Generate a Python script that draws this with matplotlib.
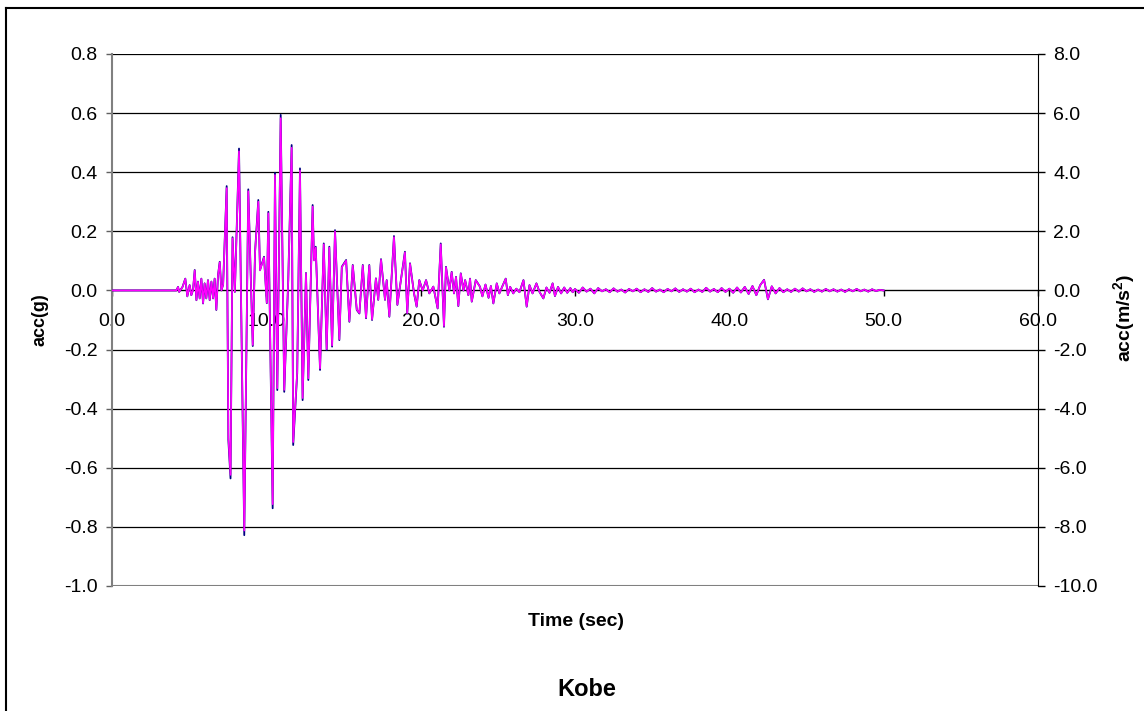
# Kobe 地震加速度时程
import matplotlib
matplotlib.use('Agg')
import matplotlib.pyplot as plt
import numpy as np
from matplotlib.lines import Line2D
from matplotlib.ticker import FormatStrFormatter

plt.rcParams['font.family'] = ['Liberation Sans', 'DejaVu Sans']
plt.rcParams['mathtext.fontset'] = 'custom'
plt.rcParams['mathtext.rm'] = 'Liberation Sans'
plt.rcParams['mathtext.bf'] = 'Liberation Sans:bold'
plt.rcParams['mathtext.default'] = 'bf'

# 主震段 (时间 s, 加速度 g) —— 从图上读取
t_main = [0.0, 3.9, 4.17, 4.28, 4.35, 4.57, 4.75, 4.88, 5.03, 5.14, 5.25, 5.36, 5.47,
          5.57, 5.68, 5.79, 5.90, 6.00, 6.11, 6.22, 6.33, 6.44, 6.55, 6.65, 6.76,
          6.87, 6.98, 7.09, 7.20, 7.43, 7.54, 7.68, 7.81, 7.96, 8.23, 8.57, 8.83,
          9.12, 9.27, 9.48, 9.59, 9.85, 10.03, 10.13, 10.41, 10.56, 10.71, 10.93,
          11.16, 11.42, 11.64, 11.74, 12.00, 12.18, 12.35, 12.57, 12.72, 13.00,
          13.09, 13.20, 13.48, 13.72, 13.91, 14.08, 14.26, 14.45, 14.73, 14.89,
          15.17, 15.38, 15.60, 15.86, 16.03, 16.25, 16.46, 16.67, 16.85, 17.10,
          17.25, 17.43, 17.69, 17.80, 17.97, 18.27, 18.49, 18.66, 18.98, 19.13,
          19.31, 19.57, 19.74, 19.91, 20.13, 20.35, 20.56, 20.82, 21.10, 21.30,
          21.51, 21.64, 21.86, 22.01, 22.16, 22.29, 22.44, 22.60, 22.77, 22.88,
          23.09, 23.20, 23.31, 23.57, 23.84, 24.00, 24.20, 24.40, 24.55, 24.71,
          24.93, 25.10, 25.30, 25.51, 25.65, 25.80, 26.00, 26.20, 26.40, 26.66,
          26.87, 27.05, 27.25, 27.50, 27.70, 27.95, 28.15, 28.35, 28.55, 28.70,
          28.90, 29.10, 29.30, 29.50, 29.70, 29.85]
acc_main = [0.0, 0.0, 0.0, 0.012, -0.005, 0.012, 0.040, -0.020, 0.018, -0.016, 0.002,
            0.069, -0.033, 0.030, -0.027, 0.040, -0.044, 0.024, -0.027, 0.035, -0.033,
            0.030, -0.027, 0.040, -0.066, 0.052, 0.097, 0.000, 0.020, 0.353, -0.506,
            -0.636, 0.180, -0.005, 0.480, -0.828, 0.342, -0.188, 0.131, 0.306, 0.069,
            0.114, -0.043, 0.266, -0.737, 0.398, -0.337, 0.594, -0.343, 0.035, 0.492,
            -0.523, -0.280, 0.413, -0.371, 0.059, -0.303, 0.289, 0.103, 0.148, -0.269,
            0.159, -0.202, 0.148, -0.190, 0.204, -0.168, 0.080, 0.103, -0.106, 0.086,
            -0.066, -0.078, 0.086, -0.094, 0.086, -0.100, 0.041, -0.032, 0.106, -0.032,
            0.035, -0.089, 0.184, -0.049, 0.013, 0.131, -0.078, 0.092, -0.010, -0.055,
            0.035, 0.000, 0.035, -0.010, 0.013, -0.061, 0.159, -0.123, 0.080, 0.000,
            0.063, -0.010, 0.046, -0.053, 0.058, 0.000, 0.035, -0.016, 0.040, -0.038,
            0.035, 0.013, -0.020, 0.020, -0.025, 0.015, -0.044, 0.024, -0.010, 0.015,
            0.040, -0.016, 0.012, -0.010, 0.006, -0.006, 0.035, -0.055, 0.018, -0.010,
            0.024, -0.005, -0.027, 0.010, -0.008, 0.024, -0.019, 0.012, -0.010, 0.010,
            -0.008, 0.008, -0.006]

# 尾部 30-50 s，每 0.25 s 一个读数
tail_dt = 0.25
acc_tail = [0.005, -0.008, 0.010, -0.004, 0.006, -0.010, 0.008, -0.003,
            0.004, -0.006, 0.007, -0.004, 0.003, -0.007, 0.005, -0.003,
            0.006, -0.006, 0.004, -0.005, 0.008, -0.004, 0.003, -0.006,
            0.005, -0.003, 0.007, -0.005, 0.004, -0.004, 0.006, -0.006,
            0.003, -0.005, 0.009, -0.004, 0.005, -0.006, 0.008, -0.005,
            0.006, -0.008, 0.010, -0.007, 0.012, -0.012, 0.015, -0.016,
            0.018, 0.036, -0.030, 0.014, -0.010, 0.008, -0.006, 0.004,
            -0.005, 0.006, -0.004, 0.007, -0.003, 0.004, -0.005, 0.003,
            -0.004, 0.005, -0.003, 0.004, -0.004, 0.003, -0.005, 0.004,
            -0.003, 0.005, -0.003, 0.003, -0.004, 0.004, -0.002, 0.002,
            0.0]

g = 9.81
left_ticks = [-1.0, -0.8, -0.6, -0.4, -0.2, 0.0, 0.2, 0.4, 0.6, 0.8]
right_ticks = [-10.0, -8.0, -6.0, -4.0, -2.0, 0.0, 2.0, 4.0, 6.0, 8.0]
x_ticks = [0, 10, 20, 30, 40, 50, 60]

t = np.concatenate([t_main, 30.0 + tail_dt * np.arange(len(acc_tail))])
acc = np.concatenate([acc_main, acc_tail])

W, H = 1144, 711
fig = plt.figure(figsize=(W / 100, H / 100), dpi=100)
ax = fig.add_axes([112 / W, 1 - 586 / H, (1038 - 112) / W, (586 - 54) / H])

ax.set_xlim(0, 60)
ax.set_ylim(-1.0, 0.8)
ax.set_yticks(left_ticks)
ax.set_xticks(x_ticks)
ax.yaxis.set_major_formatter(FormatStrFormatter('%.1f'))
ax.xaxis.set_major_formatter(FormatStrFormatter('%.1f'))
ax.grid(axis='y', color='black', lw=0.9)
ax.set_axisbelow(True)
ax.axhline(-1.0, color='#808080', lw=1.5, zorder=3)

ax.spines['top'].set_visible(False)
ax.spines['right'].set_visible(False)
ax.spines['left'].set_color('#808080')
ax.spines['left'].set_linewidth(1.5)
ax.spines['bottom'].set_position(('data', 0))
ax.spines['bottom'].set_color('black')
ax.tick_params(axis='y', direction='out', length=4.5, width=1, color='#606060',
               pad=6, labelsize=14)
ax.tick_params(axis='x', direction='out', length=4.5, width=1, pad=12, labelsize=14)

ax.plot(t, acc, color='#000080', lw=1.3, zorder=4)

ax2 = ax.twinx()
ax2.set_ylim(-10, 8)
ax2.set_yticks(right_ticks)
ax2.yaxis.set_major_formatter(FormatStrFormatter('%.1f'))
for s in ['top', 'bottom', 'left']:
    ax2.spines[s].set_visible(False)
ax2.spines['right'].set_color('black')
ax2.tick_params(axis='y', direction='out', length=5, width=1, pad=6, labelsize=14)
ax2.plot(t, acc * g, color='#FF00FF', lw=1.2)

fig.text(40 / W, 1 - 320 / H, 'acc(g)', rotation=90, ha='center', va='center',
         fontsize=13, fontweight='bold')
fig.text(1124 / W, 1 - 318 / H, r'acc(m/s$^{2}$)', rotation=90, ha='center',
         va='center', fontsize=14, fontweight='bold')
fig.text(576 / W, 1 - 622 / H, 'Time (sec)', ha='center', va='center',
         fontsize=14, fontweight='bold')
fig.text(587 / W, 1 - 689 / H, 'Kobe', ha='center', va='center',
         fontsize=17, fontweight='bold')

# 图表外框
fig.add_artist(Line2D([6 / W, 6 / W], [0, 1 - 8 / H], color='black', lw=1.5,
                      transform=fig.transFigure))
fig.add_artist(Line2D([6 / W, 1], [1 - 8 / H, 1 - 8 / H], color='black', lw=1.5,
                      transform=fig.transFigure))

fig.savefig('out.png', dpi=100)
